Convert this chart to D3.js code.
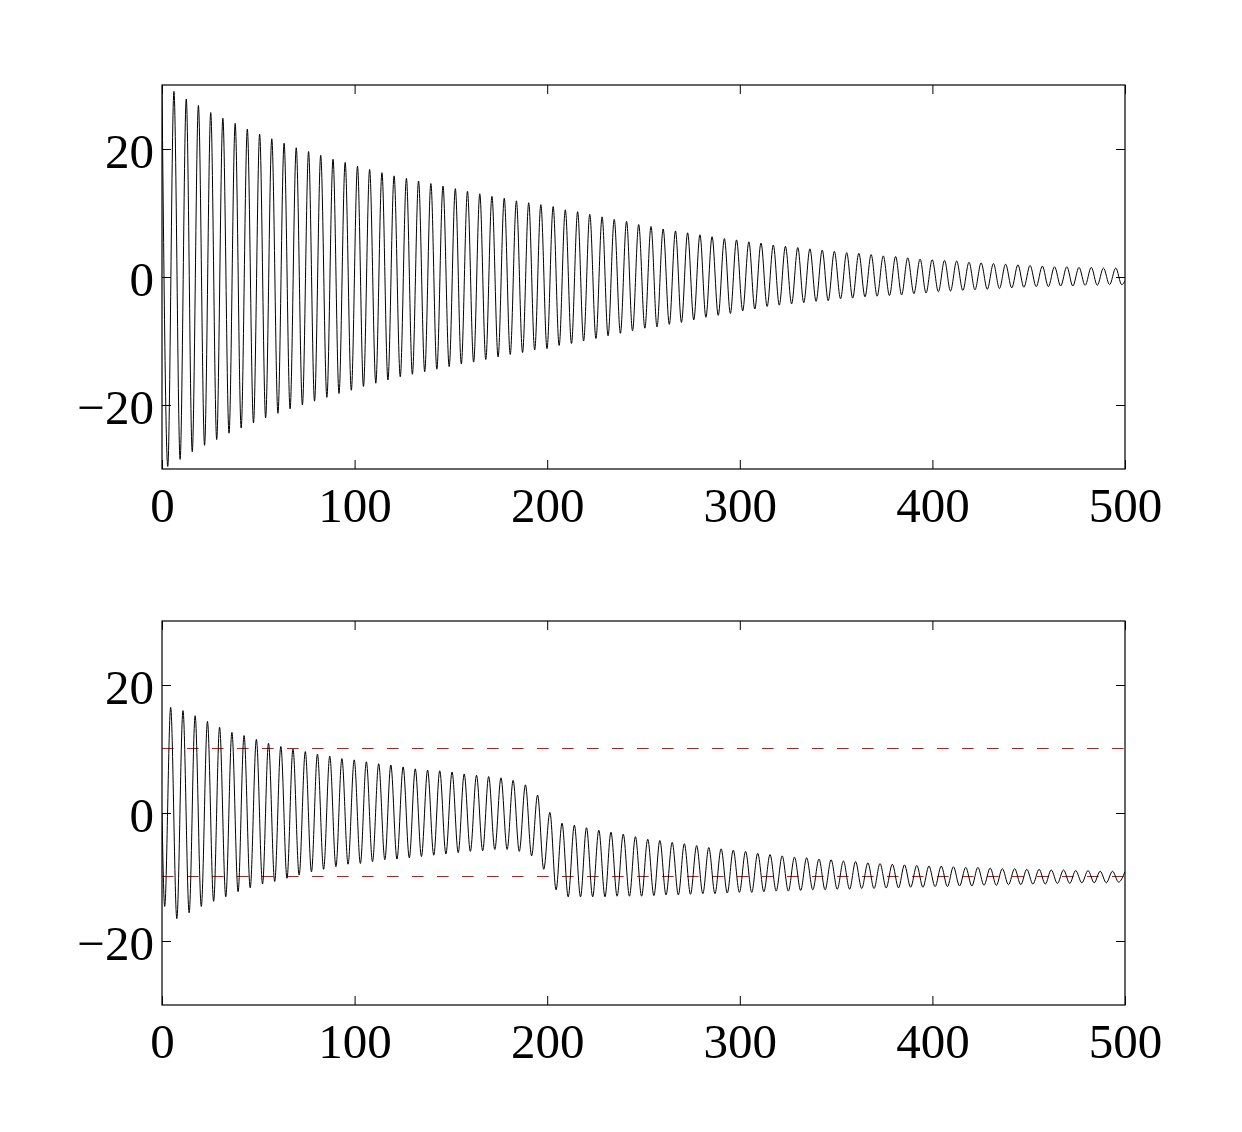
<!DOCTYPE html>
<html>
<head>
<meta charset="utf-8">
<script src="https://cdn.jsdelivr.net/npm/d3@7"></script>
<style>
  body { margin: 0; background: #fff; }
  text { font-family: "Liberation Serif", "Times New Roman", serif; }
</style>
</head>
<body>
<script>
// extrema (time, value); the curve is drawn through them
var topStart = [0, 29.8], topEnd = [500, -0.6];
var topPeakT = [6.2, 12.6, 18.9, 25.3, 31.6, 38.0, 44.3, 50.7, 57.0, 63.4, 69.7, 76.1, 82.4, 88.8, 95.1, 101.5, 107.8, 114.2, 120.5,
  126.9, 133.2, 139.6, 145.9, 152.3, 158.6, 165.0, 171.3, 177.7, 184.0, 190.4, 196.7, 203.1, 209.4, 215.8, 222.1, 228.5, 234.8, 241.2, 247.5,
  253.9, 260.2, 266.6, 272.9, 279.3, 285.6, 292.0, 298.3, 304.7, 311.0, 317.4, 323.7, 330.1, 336.4, 342.8, 349.1, 355.5, 361.8, 368.2, 374.5,
  380.9, 387.2, 393.6, 399.9, 406.3, 412.6, 419.0, 425.3, 431.7, 438.0, 444.4, 450.7, 457.1, 463.4, 469.8, 476.1, 482.5, 488.8, 495.2];
var topPeakV = [29.0, 27.8, 26.8, 25.7, 24.8, 24.0, 23.1, 22.3, 21.6, 20.9, 20.2, 19.6, 19.0, 18.4, 17.9, 17.3, 16.8, 16.3, 15.8,
  15.4, 15.0, 14.6, 14.2, 13.8, 13.4, 13.0, 12.6, 12.3, 11.9, 11.6, 11.3, 11.0, 10.5, 10.2, 9.8, 9.4, 9.0, 8.7, 8.2,
  7.9, 7.5, 7.2, 6.9, 6.6, 6.3, 6.0, 5.8, 5.5, 5.3, 5.0, 4.8, 4.6, 4.4, 4.2, 4.0, 3.8, 3.7, 3.5, 3.3,
  3.2, 3.0, 2.8, 2.7, 2.6, 2.5, 2.3, 2.2, 2.1, 2.0, 1.9, 1.8, 1.7, 1.6, 1.6, 1.5, 1.5, 1.4, 1.4];
var topTroughT = [3.0, 9.4, 15.7, 22.1, 28.4, 34.8, 41.1, 47.5, 53.8, 60.2, 66.5, 72.9, 79.2, 85.6, 91.9, 98.3, 104.6, 111.0, 117.3, 123.7,
  130.0, 136.4, 142.7, 149.1, 155.4, 161.8, 168.1, 174.5, 180.8, 187.2, 193.5, 199.9, 206.2, 212.6, 218.9, 225.3, 231.6, 238.0, 244.3, 250.7,
  257.0, 263.4, 269.7, 276.1, 282.4, 288.8, 295.1, 301.5, 307.8, 314.2, 320.5, 326.9, 333.2, 339.6, 345.9, 352.3, 358.6, 365.0, 371.3,
  377.7, 384.0, 390.4, 396.7, 403.1, 409.4, 415.8, 422.1, 428.5, 434.8, 441.2, 447.5, 453.9, 460.2, 466.6, 472.9, 479.3, 485.6, 492.0, 498.3];
var topTroughV = [-29.6, -28.5, -27.3, -26.3, -25.4, -24.4, -23.6, -22.8, -22.0, -21.3, -20.6, -20.0, -19.4, -18.8, -18.2, -17.7, -17.1, -16.6, -16.1, -15.6,
  -15.2, -14.8, -14.4, -14.0, -13.6, -13.3, -12.9, -12.5, -12.1, -11.8, -11.4, -11.2, -10.7, -10.4, -10.0, -9.6, -9.2, -8.8, -8.4, -8.0,
  -7.8, -7.4, -7.1, -6.7, -6.3, -6.0, -5.7, -5.3, -5.0, -4.6, -4.4, -4.2, -4.0, -3.8, -3.7, -3.4, -3.3, -3.1, -3.0,
  -2.9, -2.8, -2.6, -2.5, -2.3, -2.2, -2.1, -2.0, -1.9, -1.8, -1.7, -1.6, -1.5, -1.5, -1.4, -1.4, -1.3, -1.3, -1.2, -1.2];

var botStart = [0, 0], botEnd = [500, -9.15];
var botPeakT = [4.5, 10.9, 17.2, 23.6, 29.9, 36.3, 42.6, 49.0, 55.3, 61.7, 68.0, 74.4, 80.7, 87.1, 93.4, 99.8, 106.1, 112.5, 118.8, 125.2,
  131.5, 137.9, 144.2, 150.6, 156.9, 163.3, 169.6, 176.0, 182.3, 188.7, 195.0, 201.4, 207.7, 214.1, 220.4, 226.8, 233.1, 239.5, 245.8,
  252.2, 258.5, 264.9, 271.2, 277.6, 283.9, 290.3, 296.6, 303.0, 309.3, 315.7, 322.0, 328.4, 334.7, 341.1, 347.4, 353.8, 360.1, 366.5,
  372.8, 379.2, 385.5, 391.9, 398.2, 404.6, 410.9, 417.3, 423.6, 430.0, 436.3, 442.7, 449.0, 455.4, 461.7, 468.1, 474.4, 480.8, 487.1, 493.5];
var botPeakV = [16.5, 16.0, 15.2, 14.3, 13.4, 12.6, 12.1, 11.5, 10.9, 10.4, 10.0, 9.6, 9.2, 8.9, 8.5, 8.3, 8.0, 7.7, 7.5, 7.2,
  6.9, 6.7, 6.6, 6.4, 6.1, 5.9, 5.7, 5.5, 5.1, 4.4, 2.8, 0.1, -1.6, -1.9, -2.3, -2.7, -3.0, -3.3, -3.7,
  -4.1, -4.3, -4.6, -4.8, -5.1, -5.4, -5.6, -5.8, -6.0, -6.3, -6.5, -6.7, -6.9, -7.0, -7.2, -7.3, -7.5, -7.6, -7.8,
  -7.9, -8.0, -8.1, -8.2, -8.3, -8.3, -8.4, -8.5, -8.5, -8.6, -8.7, -8.7, -8.8, -8.8, -8.9, -8.9, -9.0, -9.0, -9.1, -9.1];
var botTroughT = [1.4, 7.7, 14.1, 20.4, 26.8, 33.1, 39.5, 45.8, 52.2, 58.5, 64.9, 71.2, 77.6, 83.9, 90.3, 96.6, 103.0, 109.3, 115.7, 122.0,
  128.4, 134.7, 141.1, 147.4, 153.8, 160.1, 166.5, 172.8, 179.2, 185.5, 191.9, 198.2, 204.6, 210.9, 217.3, 223.6, 230.0, 236.3, 242.7, 249.0,
  255.4, 261.7, 268.1, 274.4, 280.8, 287.1, 293.5, 299.8, 306.2, 312.5, 318.9, 325.2, 331.6, 337.9, 344.3, 350.6, 357.0, 363.3, 369.7,
  376.0, 382.4, 388.7, 395.1, 401.4, 407.8, 414.1, 420.5, 426.8, 433.2, 439.5, 445.9, 452.2, 458.6, 464.9, 471.3, 477.6, 484.0, 490.3, 496.7];
var botTroughV = [-14.6, -16.5, -15.6, -14.6, -13.8, -13.1, -12.3, -11.7, -11.1, -10.7, -10.2, -9.7, -9.2, -8.8, -8.4, -8.0, -7.9, -7.6, -7.3, -7.2,
  -7.0, -6.8, -6.6, -6.4, -6.2, -6.0, -5.9, -5.7, -5.7, -6.0, -6.7, -8.8, -12.0, -13.1, -13.1, -13.1, -13.1, -13.0, -13.0, -13.0,
  -12.9, -12.8, -12.8, -12.7, -12.6, -12.6, -12.5, -12.4, -12.4, -12.3, -12.2, -12.2, -12.1, -12.0, -12.0, -11.9, -11.9, -11.8, -11.8,
  -11.7, -11.7, -11.6, -11.6, -11.5, -11.5, -11.4, -11.4, -11.3, -11.3, -11.2, -11.2, -11.1, -11.1, -11.0, -11.0, -10.9, -10.9, -10.9, -10.8];

var refLines = [10, -10];
var xTicks = [0, 100, 200, 300, 400, 500];
var yTicks = [-20, 0, 20];

function series(start, pt, pv, tt, tv, end) {
  var pts = [start, end];
  pt.forEach(function(t, i) { pts.push([t, pv[i]]); });
  tt.forEach(function(t, i) { pts.push([t, tv[i]]); });
  return pts.sort(function(a, b) { return a[0] - b[0]; });
}

var panels = [
  {top: 85, data: series(topStart, topPeakT, topPeakV, topTroughT, topTroughV, topEnd), refs: []},
  {top: 621, data: series(botStart, botPeakT, botPeakV, botTroughT, botTroughV, botEnd), refs: refLines}
];

var width = 1242, height = 1132;
var left = 162, right = 1125, plotH = 384;

var svg = d3.select('body').append('svg')
    .attr('width', width)
    .attr('height', height);
svg.append('rect').attr('width', width).attr('height', height).attr('fill', '#fff');

var x = d3.scaleLinear().domain([0, 500]).range([left, right]);
var fmt = function(d) { return d < 0 ? '\u2212' + (-d) : String(d); };

panels.forEach(function(p, i) {
  var y = d3.scaleLinear().domain([-30, 30]).range([p.top + plotH, p.top]);
  var g = svg.append('g');

  g.append('clipPath').attr('id', 'clip' + i)
    .append('rect')
    .attr('x', left).attr('y', p.top)
    .attr('width', right - left).attr('height', plotH);

  var plot = g.append('g').attr('clip-path', 'url(#clip' + i + ')');

  // dashed limits, snapped to a pixel row so they stay crisp red
  p.refs.forEach(function(v) {
    var yy = Math.round(y(v)) - 0.5;
    plot.append('line')
      .attr('x1', x(0)).attr('x2', x(500))
      .attr('y1', yy).attr('y2', yy)
      .attr('stroke', '#ff0000')
      .attr('stroke-width', 1)
      .attr('stroke-dasharray', '11.6,13.4');
  });

  var line = d3.line()
    .x(function(d) { return x(d[0]); })
    .y(function(d) { return y(d[1]); })
    .curve(d3.curveMonotoneX);

  plot.append('path')
    .datum(p.data)
    .attr('d', line)
    .attr('fill', 'none')
    .attr('stroke', '#000')
    .attr('stroke-width', 1);

  // axes, ticks pointing inward on all four sides
  var axB = g.append('g').attr('transform', 'translate(0,' + (p.top + plotH) + ')')
    .call(d3.axisBottom(x).tickValues(xTicks).tickSize(-9).tickPadding(18).tickFormat(fmt));
  var axT = g.append('g').attr('transform', 'translate(0,' + p.top + ')')
    .call(d3.axisTop(x).tickValues(xTicks).tickSize(-9).tickFormat(''));
  var axL = g.append('g').attr('transform', 'translate(' + left + ',0)')
    .call(d3.axisLeft(y).tickValues(yTicks).tickSize(-9).tickPadding(8).tickFormat(fmt));
  var axR = g.append('g').attr('transform', 'translate(' + right + ',0)')
    .call(d3.axisRight(y).tickValues(yTicks).tickSize(-9).tickFormat(''));

  [axB, axT, axL, axR].forEach(function(a) {
    a.select('.domain').remove();
    a.selectAll('line').attr('stroke', '#000').attr('stroke-width', 1);
    a.selectAll('text')
      .attr('fill', '#000')
      .style('font-family', '"Liberation Serif", "Times New Roman", serif')
      .style('font-size', '49px');
  });
  axL.selectAll('text').attr('dy', '0.38em');

  g.append('rect')
    .attr('x', left).attr('y', p.top)
    .attr('width', right - left).attr('height', plotH)
    .attr('fill', 'none')
    .attr('stroke', '#000')
    .attr('stroke-width', 1.2);
});
</script>
</body>
</html>
